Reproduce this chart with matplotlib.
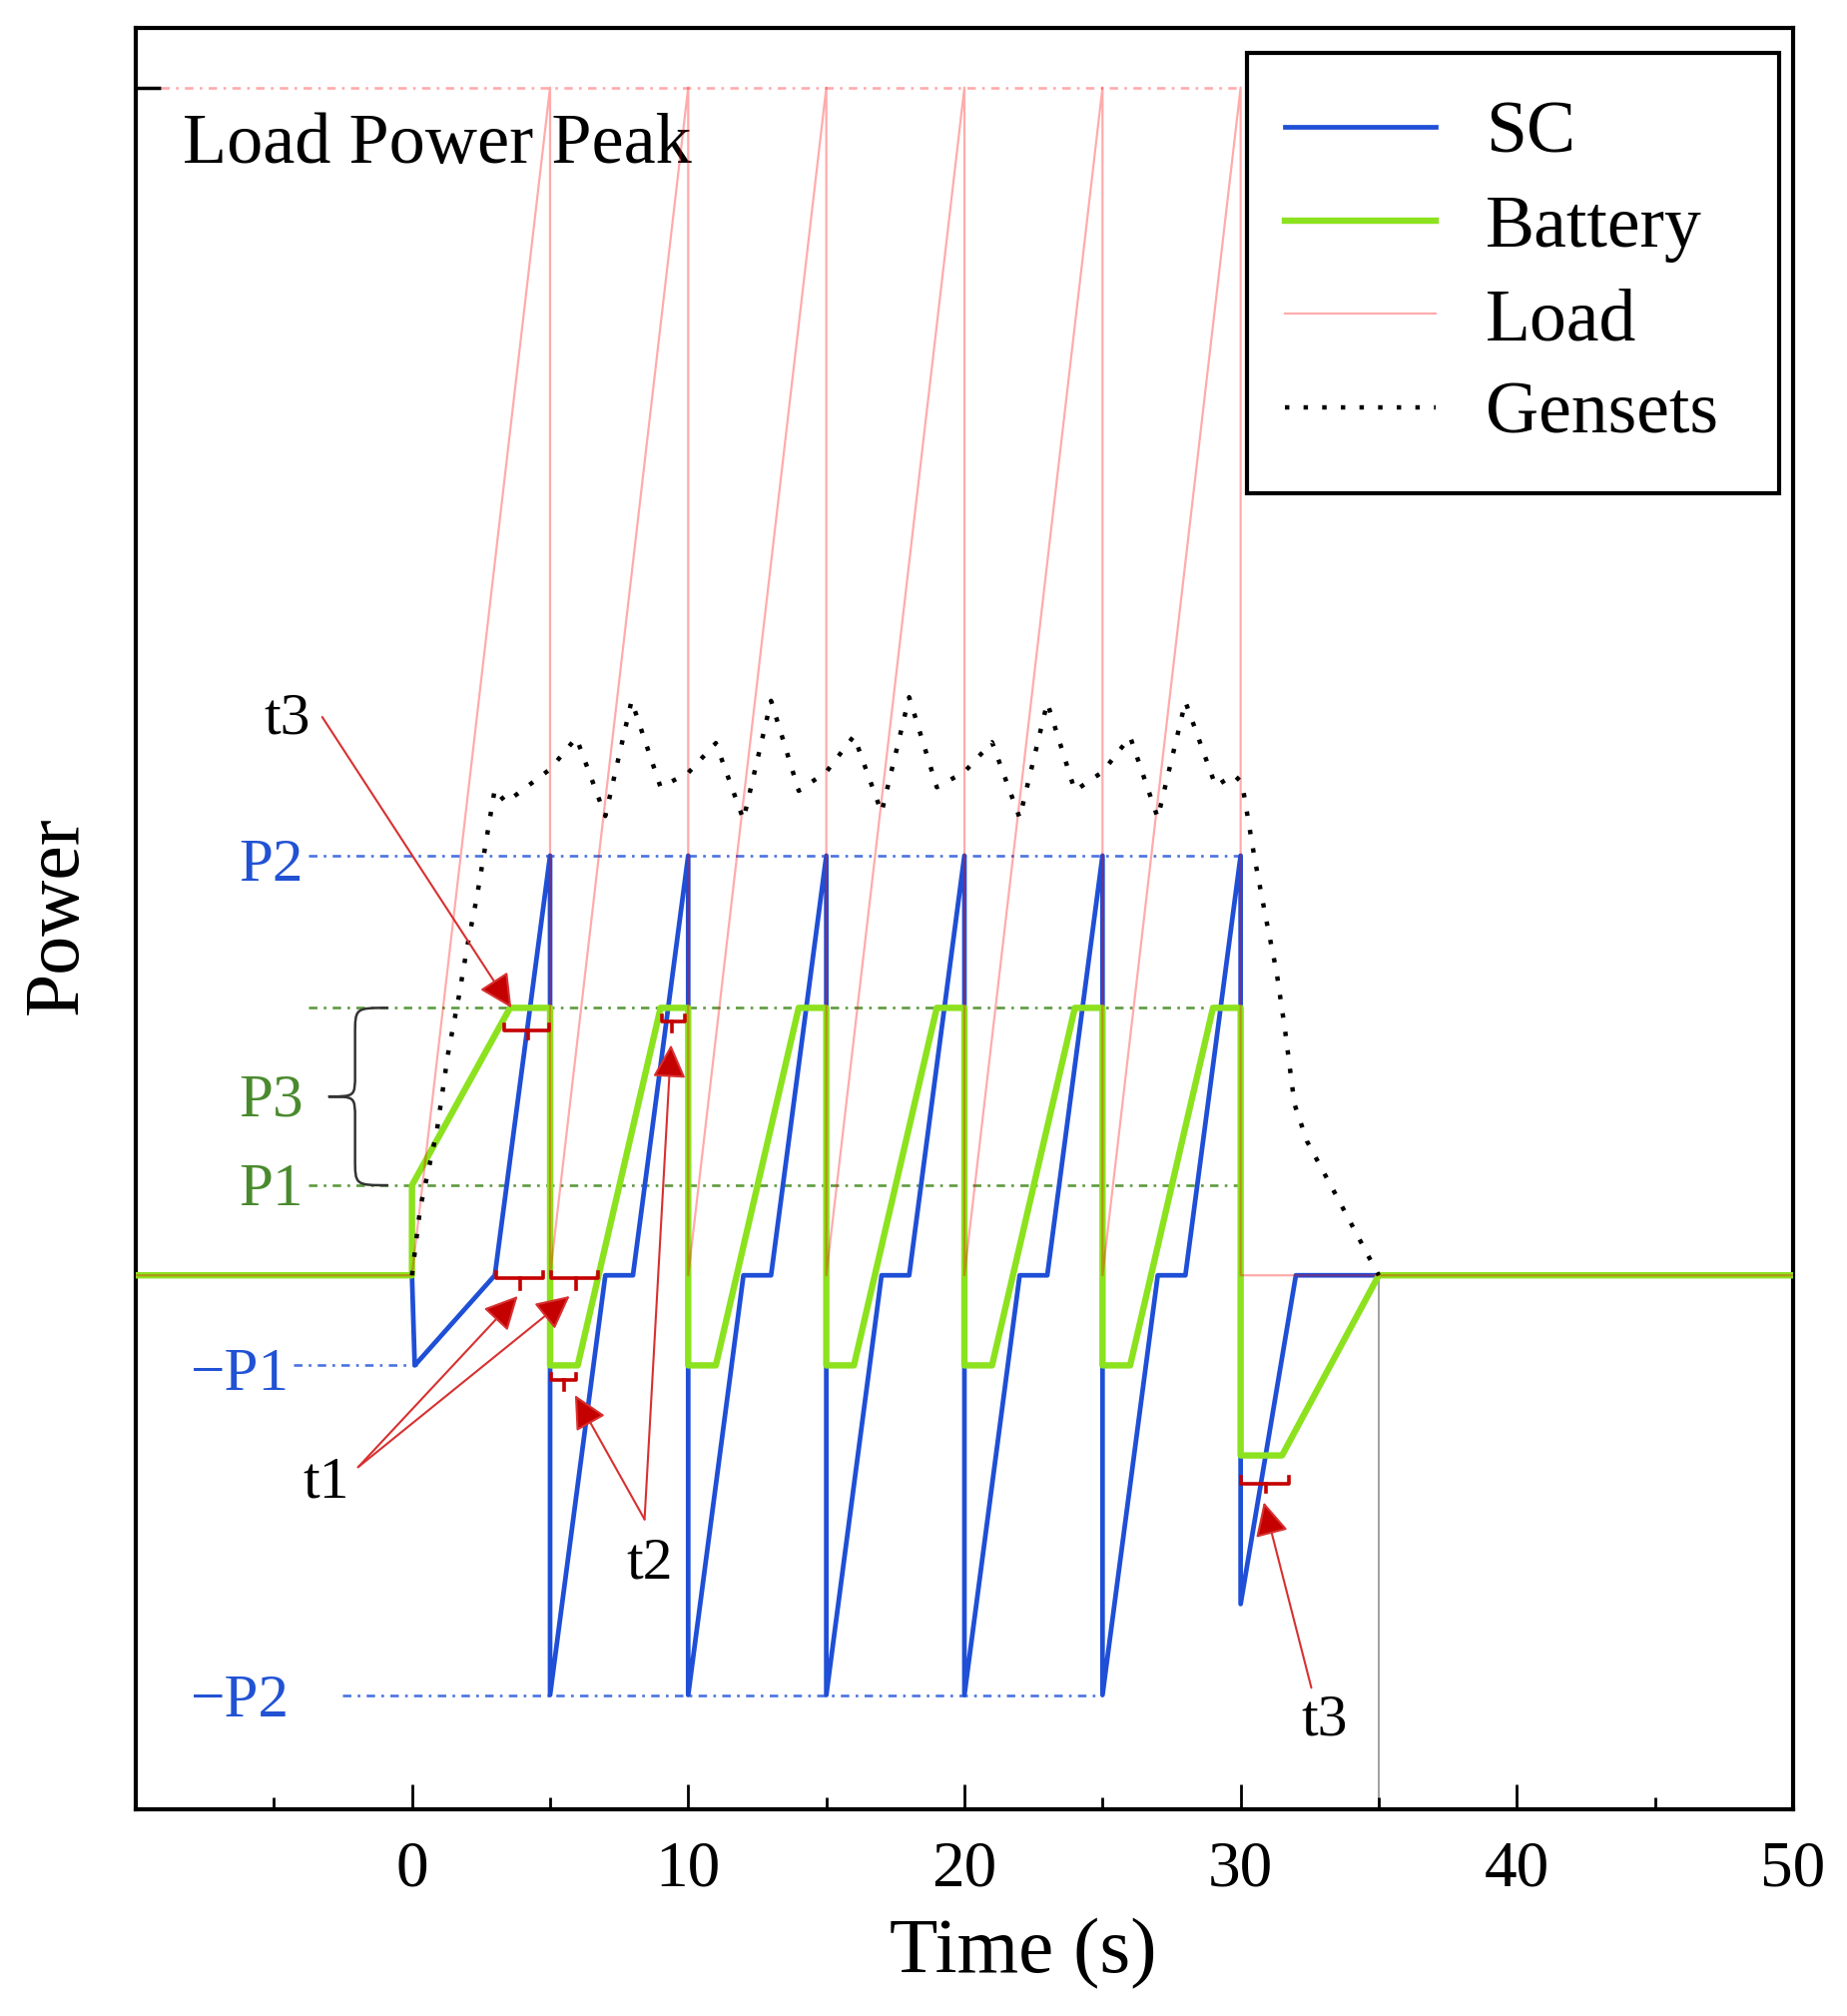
import numpy as np
import matplotlib
matplotlib.use('Agg')
import matplotlib.pyplot as plt
from matplotlib.path import Path
from matplotlib.patches import PathPatch, Rectangle

plt.rcParams['font.family'] = ['Liberation Serif', 'DejaVu Serif']

# power levels (arbitrary units, P1 = 1)
P1 = 1.0
P3 = 2.97
P2 = 4.66
P_peak = 13.19

# SC power
t_sc = [-10, 0, 0.1, 3, 5, 5, 7, 8, 10, 10, 12, 13, 15, 15, 17, 18, 20, 20, 22, 23,
        25, 25, 27, 28, 30, 30, 32, 50]
p_sc = [0, 0, -1, 0, 4.66, -4.66, 0, 0, 4.66, -4.66, 0, 0, 4.66, -4.66, 0, 0, 4.66, -4.66, 0, 0,
        4.66, -4.66, 0, 0, 4.66, -3.65, 0, 0]

# battery power
t_bat = [-10, 0, 0, 3.55, 5, 5, 6, 9, 10, 10, 11, 14, 15, 15, 16, 19, 20, 20, 21, 24,
         25, 25, 26, 29, 30, 30, 31.5, 35, 50]
p_bat = [0, 0, 1, 2.97, 2.97, -1, -1, 2.97, 2.97, -1, -1, 2.97, 2.97, -1, -1, 2.97, 2.97, -1, -1, 2.97,
         2.97, -1, -1, 2.97, 2.97, -2, -2, 0, 0]

# load power
t_load = [-10, 0, 5, 5, 10, 10, 15, 15, 20, 20, 25, 25, 30, 30, 50]
p_load = [0, 0, 13.19, 0, 13.19, 0, 13.19, 0, 13.19, 0, 13.19, 0, 13.19, 0, 0]

# gensets power
t_gen = [0, 0.3, 0.9, 1.3, 1.7, 2.0, 2.35, 2.7, 3.0, 3.4, 5.0, 5.95, 7.0, 7.95, 9.0,
         10, 11, 12, 13, 14, 15, 16, 17, 18, 19, 20, 21, 22, 23, 24, 25, 26, 27, 28,
         29.1, 29.75, 30.05, 30.5, 30.9, 31.3, 31.6, 31.95, 32.4, 33.4, 34.7, 35]
p_gen = [0, 0.75, 1.6, 2.45, 3.1, 3.65, 4.2, 4.85, 5.4, 5.25, 5.62, 5.97, 5.1, 6.38, 5.42,
         5.58, 5.91, 5.06, 6.38, 5.38, 5.59, 5.99, 5.14, 6.42, 5.42, 5.59, 5.92, 5.08, 6.36, 5.38,
         5.59, 5.98, 5.08, 6.37, 5.43, 5.56, 5.47, 4.64, 3.99, 3.37, 2.74, 1.9, 1.49, 0.92, 0.17, 0]

# brackets: start, end, middle, horizontal y, end-tick y, middle-tick y
br_x0 = [3.06, 5.05, 5.05, 3.35, 9.04, 30.03]
br_x1 = [4.75, 6.74, 5.95, 4.95, 9.87, 31.74]
br_xm = [3.9, 5.93, 5.5, 4.2, 9.42, 30.9]
br_y = [-0.033, -0.033, -1.167, 2.716, 2.817, -2.31]
br_ye = [0.04, 0.04, -1.095, 2.79, 2.887, -2.24]
br_yt = [-0.15, -0.15, -1.27, 2.63, 2.71, -2.40]

# arrows: tail -> head
arr_tail = [(-3.25, 6.2), (-1.95, -2.13), (-1.95, -2.13), (8.42, -2.71), (8.42, -2.71), (32.56, -4.58)]
arr_head = [(3.6, 2.97), (3.83, -0.23), (5.71, -0.23), (5.9, -1.33), (9.38, 2.56), (30.84, -2.52)]

c_sc = '#1f4fd6'
c_bat = '#8ce21e'
c_blue_txt = '#2152d4'
c_green_txt = '#4a8a2e'
c_red = '#c40000'

fig = plt.figure(figsize=(18.5, 20.19), dpi=100)
ax = fig.add_axes([0.0735, 0.1025, 0.8973, 0.8836])

dd = (3.2, 2.4, 1.0, 2.4)
ax.plot([-3.76, 30], [P2, P2], color='#4a73e0', lw=1.9, dashes=dd, zorder=1)
ax.plot([-3.76, 30], [P3, P3], color='#5d9b3f', lw=1.9, dashes=dd, zorder=1)
ax.plot([-3.76, 30], [P1, P1], color='#5d9b3f', lw=1.9, dashes=dd, zorder=1)
ax.plot([-4.3, 0.18], [-P1, -P1], color='#4a73e0', lw=1.9, dashes=dd, zorder=1)
ax.plot([-2.5, 25], [-P2, -P2], color='#4a73e0', lw=1.9, dashes=dd, zorder=1)
ax.plot([-9.1, 30], [P_peak, P_peak], color='red', alpha=0.33, lw=1.9, dashes=dd, zorder=1)
ax.plot([35, 35], [0, -6], color='#999999', lw=1.3, zorder=1)

ax.plot(t_sc, p_sc, color=c_sc, lw=3.4, label='SC', zorder=2)
ax.plot(t_bat, p_bat, color=c_bat, lw=4.6, label='Battery', zorder=3)
ax.plot(t_load, p_load, color='red', alpha=0.33, lw=1.6, label='Load', zorder=4)
ax.plot(t_gen, p_gen, color='black', lw=3.2, dashes=(1, 3.2), label='Gensets', zorder=5)

# brackets
for x0, x1, xm, y, ye, yt in zip(br_x0, br_x1, br_xm, br_y, br_ye, br_yt):
    ax.plot([x0, x0, x1, x1], [ye, y, y, ye], color=c_red, lw=2.6, zorder=6)
    ax.plot([xm, xm], [y, yt], color=c_red, lw=2.6, zorder=6)

# arrows
for (tx, ty), (hx, hy) in zip(arr_tail, arr_head):
    ax.annotate('', xy=(hx, hy), xytext=(tx, ty),
                arrowprops=dict(arrowstyle='-|>', facecolor=c_red, edgecolor='#d83030',
                                lw=1.5, mutation_scale=52, shrinkA=0, shrinkB=0),
                zorder=7)

# curly brace between P1 and P3
xe, xm, xt = -0.86, -2.06, -3.03
ym = (P1 + P3) / 2
verts = [(xe, P3), (xm, P3), (xm, P3), (xm, P3 - 0.3),
         (xm, ym + 0.25),
         (xm, ym), (xm, ym), (xt, ym),
         (xm, ym), (xm, ym), (xm, ym - 0.25),
         (xm, P1 + 0.3),
         (xm, P1), (xm, P1), (xe, P1)]
codes = [Path.MOVETO, Path.CURVE4, Path.CURVE4, Path.CURVE4,
         Path.LINETO,
         Path.CURVE4, Path.CURVE4, Path.CURVE4,
         Path.CURVE4, Path.CURVE4, Path.CURVE4,
         Path.LINETO,
         Path.CURVE4, Path.CURVE4, Path.CURVE4]
ax.add_patch(PathPatch(Path(verts, codes), fill=False, edgecolor='#333333', lw=1.8, zorder=6))

# labels
fs = 44
ax.text(-6.25, 4.38, 'P2', color=c_blue_txt, fontsize=fs, ha='left', va='baseline')
ax.text(-6.25, 1.77, 'P3', color=c_green_txt, fontsize=fs, ha='left', va='baseline')
ax.text(-6.25, 0.78, 'P1', color=c_green_txt, fontsize=fs, ha='left', va='baseline')
ax.text(-8.03, -1.27, '\u2212P1', color=c_blue_txt, fontsize=fs, ha='left', va='baseline')
ax.text(-8.03, -4.90, '\u2212P2', color=c_blue_txt, fontsize=fs, ha='left', va='baseline')
ax.text(-5.35, 6.02, 't3', fontsize=43, ha='left', va='baseline')
ax.text(-3.94, -2.47, 't1', fontsize=43, ha='left', va='baseline')
ax.text(7.76, -3.36, 't2', fontsize=43, ha='left', va='baseline')
ax.text(32.2, -5.10, 't3', fontsize=43, ha='left', va='baseline')
ax.text(-8.29, 12.35, 'Load Power Peak', fontsize=52, ha='left', va='baseline')

ax.set_xlim(-10, 50)
ax.set_ylim(-5.93, 13.85)
ax.set_xticks([0, 10, 20, 30, 40, 50])
ax.set_xticks([-5, 5, 15, 25, 35, 45], minor=True)
ax.set_yticks([P_peak])
ax.tick_params(axis='x', which='major', direction='in', length=18, width=2, labelsize=47, pad=22)
ax.tick_params(axis='x', which='minor', direction='in', length=9, width=2)
ax.tick_params(axis='y', direction='in', length=18, width=2.5, labelleft=False)
for s in ax.spines.values():
    s.set_linewidth(3)

fig.text(1025 / 1850, 1 - 1975 / 2019, 'Time (s)', fontsize=57, ha='center', va='baseline')
fig.text(58 / 1850, 1 - 917 / 2019, 'Power', fontsize=56, rotation=90, ha='center', va='center')

# legend box drawn separately so the padding matches
ax.add_patch(Rectangle((0.6705, 0.7391), 0.3209, 0.2467, transform=ax.transAxes,
                       facecolor='white', edgecolor='black', lw=3, zorder=8))
leg = ax.legend(loc='upper left', bbox_to_anchor=(0.6934, 0.9589), borderaxespad=0,
                fontsize=53, handlelength=2.05, handletextpad=0.68, borderpad=0,
                labelspacing=0.355, frameon=False)
leg.set_zorder(9)

fig.savefig('out.png', dpi=100)
